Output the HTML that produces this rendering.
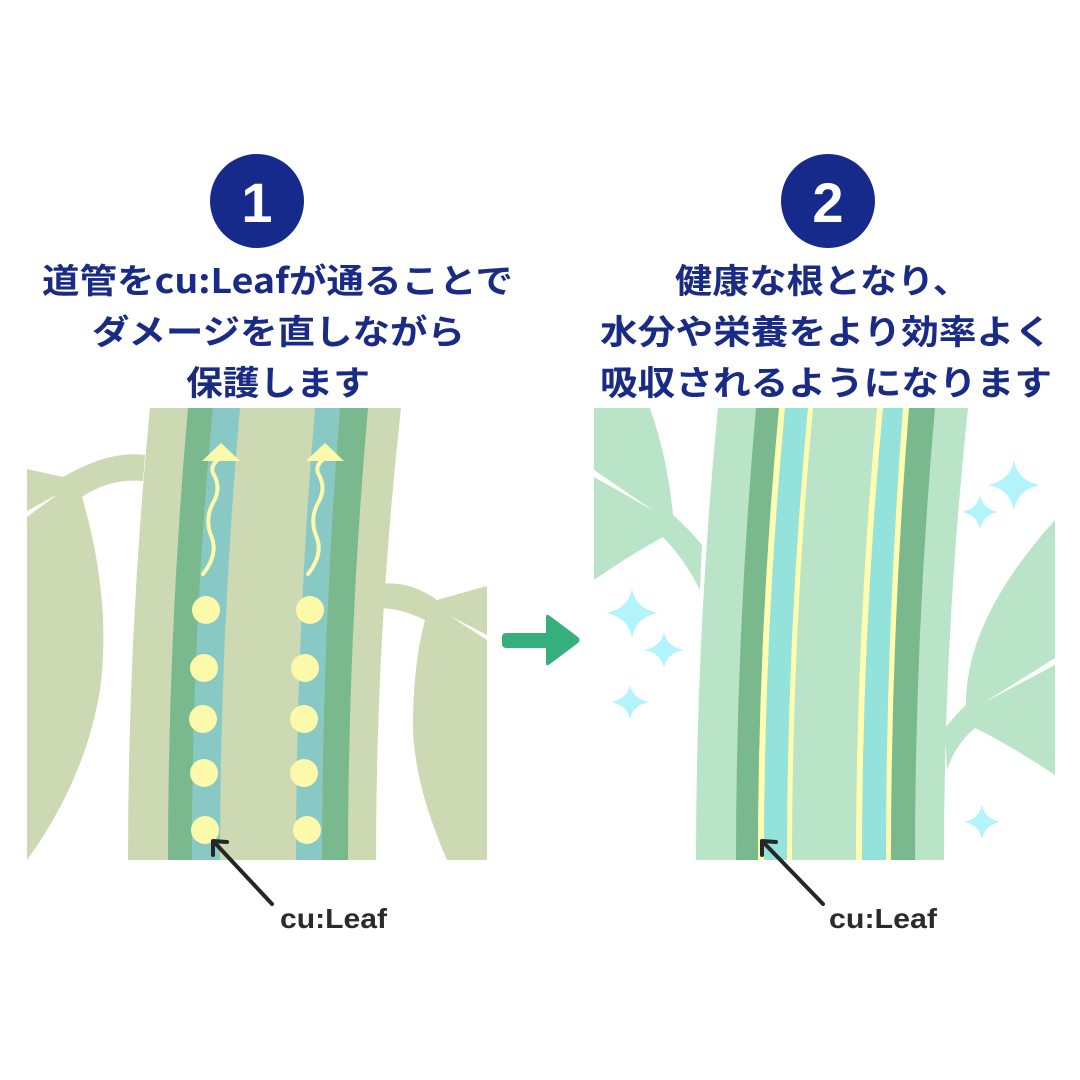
<!DOCTYPE html>
<html><head><meta charset="utf-8"><style>
html,body{margin:0;padding:0;background:#fff;}
svg{display:block;}
</style></head><body>
<svg width="1080" height="1080" viewBox="0 0 1080 1080" xmlns="http://www.w3.org/2000/svg">
<rect width="1080" height="1080" fill="#fff"/>
<!-- LEFT PANEL -->
<g fill="#cdd9b2">
 <path d="M27,469 L63,477 Q110,450 145,455 L143,481 Q110,478 82,497 Q112,600 100,690 Q85,780 27,860 Z"/>
 <path d="M378,584 Q410,580 437,600 L487,586 L487,860 L447,860 Q412,780 413,720 Q414,660 425,620 Q400,608 378,608 Z"/>
 <path d="M150,408 Q128,634 128,860 L376,860 Q376,634 401,408 Z"/>
</g>
<g fill="#fff">
 <path d="M27,511 L58,494 L27,517 Z"/>
 <path d="M450,616 L487,635 L487,640 Z"/>
</g>
<path d="M188,408 Q168,634 168,860 L192,860 Q192,634 213,408 Z" fill="#7ab98d"/>
<path d="M213,408 Q192,634 192,860 L220,860 Q220,634 240,408 Z" fill="#88c9c6"/>
<path d="M315,408 Q296,634 296,860 L322,860 Q322,634 340,408 Z" fill="#88c9c6"/>
<path d="M340,408 Q322,634 322,860 L348,860 Q348,634 368,408 Z" fill="#7ab98d"/>
<g fill="#fdf9aa">
 <circle cx="206" cy="610" r="14"/><circle cx="204" cy="668" r="14"/><circle cx="203" cy="719" r="14"/><circle cx="204" cy="773" r="14"/><circle cx="205" cy="830" r="14"/>
 <circle cx="310" cy="610" r="14"/><circle cx="305" cy="668" r="14"/><circle cx="304" cy="719" r="14"/><circle cx="304" cy="773" r="14"/><circle cx="307" cy="830" r="14"/>
 <path d="M202,461 L221,443 L240,461 Z"/>
 <path d="M306,461 L325,443 L344,461 Z"/>
</g>
<g stroke="#fdf9aa" stroke-width="4" fill="none" stroke-linecap="round">
 <path d="M203,574 Q218,555 212,538 Q204,520 213,503 Q222,488 213,473 Q210,465 220,458"/>
 <path d="M308,574 Q323,555 317,538 Q309,520 318,503 Q327,488 318,473 Q315,465 325,458"/>
</g>
<g stroke="#262626" stroke-width="4" fill="none" stroke-linecap="round" stroke-linejoin="round">
 <line x1="272" y1="904" x2="215" y2="843"/>
 <path d="M213,855 L213,841 L227,842"/>
</g>
<text x="280" y="928" font-family="Liberation Sans, sans-serif" font-weight="bold" font-size="28" fill="#2b2b2b" textLength="107" lengthAdjust="spacingAndGlyphs">cu:Leaf</text>

<!-- ARROW -->
<g fill="#35b07c">
 <rect x="502" y="633" width="48" height="15" rx="4"/>
 <path d="M546,617 Q546,613 550,616 L578,637 Q581,640 578,643 L550,664 Q546,667 546,663 Z"/>
</g>

<!-- RIGHT PANEL -->
<g fill="#b9e4c7">
 <path d="M594,408 L650,408 Q668,460 673,515 Q690,530 702,545 L700,590 Q685,560 663,537 Q630,555 594,580 Z"/>
 <path d="M1055,520 L1055,775 Q1010,745 975,728 Q955,745 947,770 L945,728 Q960,710 966,705 Q965,620 1055,520 Z"/>
 <path d="M718,408 Q696,634 696,860 L944,860 Q944,634 968,408 Z"/>
</g>
<g fill="#fff">
 <path d="M594,470 L654,511 L594,477 Z"/>
 <path d="M985,702 L1055,658 L1055,665 Z"/>
</g>
<path d="M756,408 Q736,634 736,860 L758,860 Q758,634 779,408 Z" fill="#7ab98d"/>
<path d="M779,408 Q758,634 758,860 L764,860 Q764,634 785,408 Z" fill="#fffdb0"/>
<path d="M785,408 Q764,634 764,860 L787,860 Q787,634 808,408 Z" fill="#93e3dc"/>
<path d="M808,408 Q787,634 787,860 L792,860 Q792,634 813,408 Z" fill="#fffdb0"/>
<path d="M877,408 Q856,634 856,860 L862,860 Q862,634 883,408 Z" fill="#fffdb0"/>
<path d="M883,408 Q862,634 862,860 L886,860 Q886,634 903,408 Z" fill="#93e3dc"/>
<path d="M903,408 Q886,634 886,860 L891,860 Q891,634 909,408 Z" fill="#fffdb0"/>
<path d="M909,408 Q891,634 891,860 L915,860 Q915,634 935,408 Z" fill="#7ab98d"/>
<g fill="#b3f3fb">
 <path d="M1014,460 Q1018,481 1040,485 Q1018,489 1014,510 Q1010,489 988,485 Q1010,481 1014,460 Z"/>
 <path d="M980,495 Q983,509 998,512 Q983,515 980,529 Q977,515 962,512 Q977,509 980,495 Z"/>
 <path d="M632,589 Q636,609 658,613 Q636,617 632,638 Q628,617 606,613 Q628,609 632,589 Z"/>
 <path d="M664,632 Q667,647 684,650 Q667,653 664,668 Q661,653 644,650 Q661,647 664,632 Z"/>
 <path d="M630,685 Q633,699 649,702 Q633,705 630,719 Q627,705 611,702 Q627,699 630,685 Z"/>
 <path d="M982,805 Q985,819 1000,822 Q985,825 982,839 Q979,825 964,822 Q979,819 982,805 Z"/>
</g>
<g stroke="#262626" stroke-width="4" fill="none" stroke-linecap="round" stroke-linejoin="round">
 <line x1="823" y1="904" x2="764" y2="843"/>
 <path d="M762,855 L762,841 L776,842"/>
</g>
<text x="829" y="928" font-family="Liberation Sans, sans-serif" font-weight="bold" font-size="28" fill="#2b2b2b" textLength="108" lengthAdjust="spacingAndGlyphs">cu:Leaf</text>

<!-- HEADERS -->
<circle cx="257" cy="201" r="47" fill="#152a8a"/>
<text x="257" y="222" text-anchor="middle" font-family="Liberation Sans, sans-serif" font-weight="bold" font-size="56" fill="#fff">1</text>
<circle cx="828" cy="201" r="47" fill="#152a8a"/>
<text x="828" y="222" text-anchor="middle" font-family="Liberation Sans, sans-serif" font-weight="bold" font-size="56" fill="#fff">2</text>

<g font-family="'Noto Sans CJK JP', 'Liberation Sans', sans-serif" font-weight="bold" font-size="34" fill="#1a2b86">
 <text x="42" y="293" textLength="471" lengthAdjust="spacingAndGlyphs">道管をcu:Leafが通ることで</text>
 <text x="92" y="344" textLength="373" lengthAdjust="spacingAndGlyphs">ダメージを直しながら</text>
 <text x="186" y="395" textLength="184" lengthAdjust="spacingAndGlyphs">保護します</text>
 <text x="675" y="293" textLength="295" lengthAdjust="spacingAndGlyphs">健康な根となり、</text>
 <text x="600" y="344" textLength="452" lengthAdjust="spacingAndGlyphs">水分や栄養をより効率よく</text>
 <text x="600" y="395" textLength="452" lengthAdjust="spacingAndGlyphs">吸収されるようになります</text>
</g>
</svg>
</body></html>
